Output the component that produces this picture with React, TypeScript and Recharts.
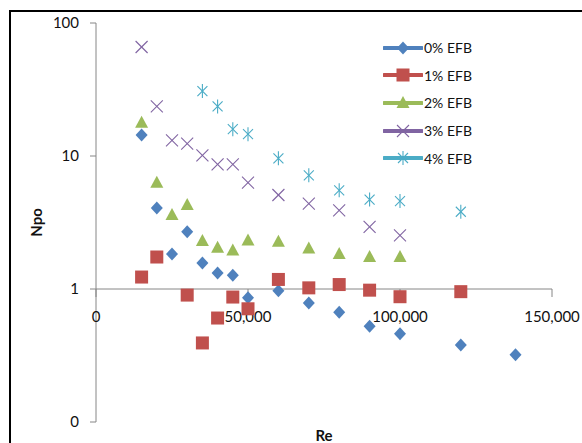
import React from 'react';
import { ScatterChart, Scatter, XAxis, YAxis, ReferenceLine, ReferenceDot, Legend } from 'recharts';

// Re (x) and Npo (y), one pair of arrays per EFB loading
const re0 = [15000, 20000, 25000, 30000, 35000, 40000, 45000, 50000, 60000, 70000, 80000, 90000, 100000, 120000, 138000];
const npo0 = [14.4, 4.06, 1.83, 2.69, 1.57, 1.32, 1.27, 0.86, 0.97, 0.785, 0.67, 0.525, 0.46, 0.38, 0.32];

const re1 = [15000, 20000, 30000, 35000, 40000, 45000, 50000, 60000, 70000, 80000, 90000, 100000, 120000];
const npo1 = [1.23, 1.74, 0.9, 0.393, 0.605, 0.87, 0.71, 1.18, 1.02, 1.08, 0.98, 0.875, 0.955];

const re2 = [15000, 20000, 25000, 30000, 35000, 40000, 45000, 50000, 60000, 70000, 80000, 90000, 100000];
const npo2 = [17.8, 6.3, 3.6, 4.28, 2.3, 2.04, 1.95, 2.32, 2.27, 2.02, 1.83, 1.74, 1.74];

const re3 = [15000, 20000, 25000, 30000, 35000, 40000, 45000, 50000, 60000, 70000, 80000, 90000, 100000];
const npo3 = [66, 23.6, 13.1, 12.4, 10.1, 8.66, 8.66, 6.3, 5.09, 4.38, 3.9, 2.93, 2.53];

const re4 = [35000, 40000, 45000, 50000, 60000, 70000, 80000, 90000, 100000, 120000];
const npo4 = [30.8, 23.6, 15.9, 14.6, 9.6, 7.16, 5.52, 4.7, 4.58, 3.81];

const seriesNames = ['0% EFB', '1% EFB', '2% EFB', '3% EFB', '4% EFB'];
const xTicks = [0, 50000, 100000, 150000];
const yTicks = [0.1, 1, 10, 100];

const colors = ['#4F81BD', '#C0504D', '#9BBB59', '#8064A2', '#4BACC6'];
const axisColor = '#868686';
const font = 'Lato, "Liberation Sans", sans-serif';

const toPoints = (xs: number[], ys: number[]) => xs.map((x, i) => ({ re: x, npo: ys[i] }));

function Marker({ kind, cx, cy }: { kind: number; cx: number; cy: number }) {
  const c = colors[kind];
  if (kind === 0)
    return <polygon points={`${cx},${cy - 6.5} ${cx + 6},${cy} ${cx},${cy + 6.5} ${cx - 6},${cy}`} fill={c} />;
  if (kind === 1) return <rect x={cx - 6.5} y={cy - 6.5} width={13} height={13} fill={c} />;
  if (kind === 2)
    return <polygon points={`${cx},${cy - 7} ${cx + 6.5},${cy + 5} ${cx - 6.5},${cy + 5}`} fill={c} />;
  if (kind === 3)
    return (
      <g stroke={c} strokeWidth={1.1} fill="none">
        <line x1={cx - 6} y1={cy - 6} x2={cx + 6} y2={cy + 6} />
        <line x1={cx - 6} y1={cy + 6} x2={cx + 6} y2={cy - 6} />
      </g>
    );
  return (
    <g stroke={c} strokeWidth={1.1} fill="none">
      <line x1={cx - 5} y1={cy - 5} x2={cx + 5} y2={cy + 5} />
      <line x1={cx - 5} y1={cy + 5} x2={cx + 5} y2={cy - 5} />
      <line x1={cx} y1={cy - 7} x2={cx} y2={cy + 7} />
    </g>
  );
}

function LegendBox() {
  return (
    <div style={{ fontFamily: font, fontSize: 14, color: '#111' }}>
      {seriesNames.map((name, i) => (
        <div key={name} style={{ display: 'flex', alignItems: 'center', height: 27.6 }}>
          <svg width={40} height={16} style={{ display: 'block' }}>
            <line x1={1} y1={8} x2={39} y2={8} stroke={colors[i]} strokeWidth={4} strokeLinecap="round" />
            <Marker kind={i} cx={20} cy={8} />
          </svg>
          <span style={{ marginLeft: 1, whiteSpace: 'nowrap' }}>{name}</span>
        </div>
      ))}
    </div>
  );
}

const XTickLabel = (text: string) => (props: any) => {
  const { x, y } = props.viewBox;
  return (
    <g>
      <line x1={x} y1={y} x2={x} y2={y + 8} stroke={axisColor} strokeWidth={1} />
      <text x={x} y={y + 33} textAnchor="middle" fontFamily={font} fontSize={15} fill="#111">
        {text}
      </text>
    </g>
  );
};

const data = [toPoints(re0, npo0), toPoints(re1, npo1), toPoints(re2, npo2), toPoints(re3, npo3), toPoints(re4, npo4)];

export default function App() {
  return (
    <div style={{ position: 'absolute', left: 0, top: 0, width: 582, height: 443, background: '#fff', overflow: 'hidden' }}>
      <div
        style={{
          position: 'absolute', left: 9, top: 10, width: 600, height: 500,
          borderTop: '2px solid #000', borderLeft: '2px solid #000',
        }}
      />
      <ScatterChart width={582} height={443} margin={{ top: 23, right: 30, bottom: 0, left: 0 }} style={{ position: 'absolute', left: 0, top: 0 }}>
        <XAxis
          dataKey="re"
          type="number"
          domain={[0, 150000]}
          ticks={xTicks}
          tick={false}
          axisLine={false}
          tickLine={false}
          height={21}
          label={{ value: 'Re', position: 'insideBottom', offset: 2, style: { fontFamily: font, fontSize: 15, fontWeight: 'bold', fill: '#111' } }}
        />
        <YAxis
          dataKey="npo"
          type="number"
          scale="log"
          domain={[0.1, 100]}
          ticks={yTicks}
          allowDataOverflow
          width={96}
          stroke={axisColor}
          tickSize={6}
          tickMargin={11}
          tick={{ fill: '#111', fontSize: 15, fontFamily: font }}
          tickFormatter={(v: number) => (v < 1 ? '0' : String(v))}
          label={{ value: 'Npo', angle: -90, position: 'insideLeft', offset: 37, style: { textAnchor: 'middle', fontFamily: font, fontSize: 15, fontWeight: 'bold', fill: '#111' } }}
        />
        <ReferenceLine y={1} stroke={axisColor} strokeWidth={1} />
        {xTicks.map((t) => (
          <ReferenceDot key={t} x={t} y={1} r={0} stroke="none" label={XTickLabel(t.toLocaleString('en-US'))} />
        ))}
        <Legend layout="vertical" align="center" verticalAlign="middle" content={() => <LegendBox />} wrapperStyle={{ left: 383, top: 34, width: 130 }} />
        {data.map((pts, i) => (
          <Scatter
            key={seriesNames[i]}
            name={seriesNames[i]}
            data={pts}
            fill={colors[i]}
            isAnimationActive={false}
            shape={(p: any) => <Marker kind={i} cx={p.cx} cy={p.cy} />}
          />
        ))}
      </ScatterChart>
    </div>
  );
}
